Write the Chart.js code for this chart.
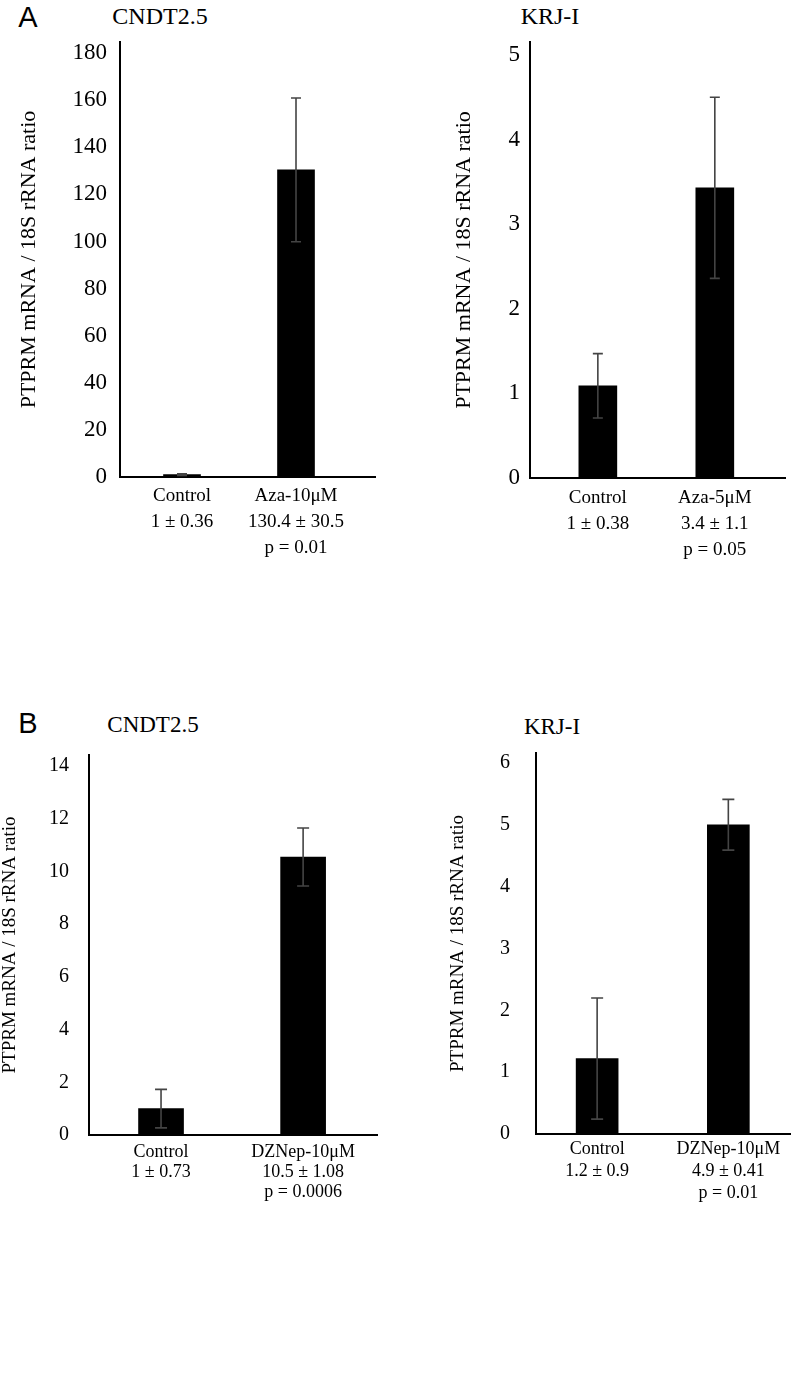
<!doctype html>
<html lang="en">
  <head>
    <meta charset="utf-8">
    <title>PTPRM mRNA / 18S rRNA ratio</title>
    <style>
      * { margin: 0; padding: 0; }
      body { width: 793px; height: 1389px; background: #fff; position: relative; overflow: hidden; }
      .box { position: absolute; }
      .txt { position: absolute; color: #000; white-space: nowrap; transform: translate(-50%, -50%); }
      .serif { font-family: 'Liberation Serif', 'Times New Roman', serif; }
      .letter { font-family: 'Liberation Sans', Arial, sans-serif; font-size: 29px; }
    </style>
  </head>
  <body>
    <div class="txt letter" style="left:28px; top:17px;">A</div>
    <div class="txt serif" style="left:160px; top:16px; font-size:24px;">CNDT2.5</div>
    <div class="txt serif" style="left:550px; top:16px; font-size:24px;">KRJ-I</div>
    <div class="txt letter" style="left:28px; top:723px;">B</div>
    <div class="txt serif" style="left:153px; top:725px; font-size:23px;">CNDT2.5</div>
    <div class="txt serif" style="left:552px; top:727px; font-size:23px;">KRJ-I</div>

    <div class="box" style="left:0px; top:30px; width:385px; height:540px;"><canvas id="aCndt"></canvas></div>
    <div class="box" style="left:400px; top:30px; width:390px; height:540px;"><canvas id="aKrj"></canvas></div>
    <div class="box" style="left:0px; top:740px; width:385px; height:500px;"><canvas id="bCndt"></canvas></div>
    <div class="box" style="left:400px; top:740px; width:393px; height:500px;"><canvas id="bKrj"></canvas></div>

    <script src="https://cdn.jsdelivr.net/npm/chart.js/dist/chart.umd.min.js"></script>
    <script>
    // data
    const yTitle = 'PTPRM mRNA / 18S rRNA ratio';

    const aCndtMeans = [1, 130.4];
    const aCndtErrors = [0.36, 30.5];
    const aCndtLabels = [['Control', '1 ± 0.36'], ['Aza-10μM', '130.4 ± 30.5', 'p = 0.01']];
    const aCndtTicks = [0, 20, 40, 60, 80, 100, 120, 140, 160, 180];

    const aKrjMeans = [1.09, 3.43];
    const aKrjErrors = [0.38, 1.07];
    const aKrjLabels = [['Control', '1 ± 0.38'], ['Aza-5μM', '3.4 ± 1.1', 'p = 0.05']];
    const aKrjTicks = [0, 1, 2, 3, 4, 5];

    const bCndtMeans = [1, 10.55];
    const bCndtErrors = [0.73, 1.1];
    const bCndtLabels = [['Control', '1 ± 0.73'], ['DZNep-10μM', '10.5 ± 1.08', 'p = 0.0006']];
    const bCndtTicks = [0, 2, 4, 6, 8, 10, 12, 14];

    const bKrjMeans = [1.22, 5.0];
    const bKrjErrors = [0.98, 0.41];
    const bKrjLabels = [['Control', '1.2 ± 0.9'], ['DZNep-10μM', '4.9 ± 0.41', 'p = 0.01']];
    const bKrjTicks = [0, 1, 2, 3, 4, 5, 6];

    const serif = "'Liberation Serif', 'Times New Roman', serif";

    // error bars drawn on top of the bars, using the chart's scales
    const errorBars = {
      id: 'errorBars',
      afterDatasetsDraw(chart, args, opts) {
        const {ctx, scales: {x, y}} = chart;
        ctx.save();
        ctx.strokeStyle = '#444';
        ctx.lineWidth = 1.6;
        chart.data.datasets[0].data.forEach((d, i) => {
          const e = opts.errors[i];
          const px = x.getPixelForValue(d.x);
          const top = y.getPixelForValue(d.y + e);
          const bot = y.getPixelForValue(d.y - e);
          ctx.beginPath();
          ctx.moveTo(px, top); ctx.lineTo(px, bot);
          ctx.moveTo(px - opts.cap, top); ctx.lineTo(px + opts.cap, top);
          ctx.moveTo(px - opts.cap, bot); ctx.lineTo(px + opts.cap, bot);
          ctx.stroke();
        });
        ctx.restore();
      }
    };

    function makePanel(id, means, errors, labels, yTicks, s) {
      return new Chart(document.getElementById(id), {
        type: 'bar',
        data: {
          datasets: [{
            data: means.map((v, i) => ({x: i, y: v})),
            backgroundColor: '#000',
            borderWidth: 0,
            barThickness: s.bar
          }]
        },
        plugins: [errorBars],
        options: {
          responsive: true,
          maintainAspectRatio: false,
          animation: false,
          layout: { padding: { top: s.padTop, right: s.padRight, left: 0, bottom: 0 } },
          plugins: {
            legend: { display: false },
            tooltip: { enabled: false },
            errorBars: { errors: errors, cap: s.cap }
          },
          scales: {
            x: {
              type: 'linear',
              offset: false,
              min: s.xMin,
              max: s.xMax,
              afterBuildTicks: sc => { sc.ticks = labels.map((l, i) => ({value: i})); },
              afterFit: sc => { sc.height = s.xHeight; sc.paddingLeft = 0; sc.paddingRight = 0; },
              grid: { display: false, drawTicks: false },
              border: { display: true, color: '#000', width: 2 },
              ticks: {
                autoSkip: false,
                maxRotation: 0,
                padding: s.xPad,
                color: '#000',
                font: { family: serif, size: s.catSize, lineHeight: s.catLine + 'px' },
                callback: (v, i) => labels[i]
              }
            },
            y: {
              min: 0,
              max: s.yMax,
              afterBuildTicks: sc => { sc.ticks = yTicks.map(v => ({value: v})); },
              afterFit: sc => { sc.width = s.yWidth; sc.paddingTop = 0; sc.paddingBottom = 0; },
              grid: { display: false, drawTicks: false },
              border: { display: true, color: '#000', width: 2 },
              ticks: {
                padding: s.yPad,
                color: '#000',
                font: { family: serif, size: s.tickSize }
              },
              title: {
                display: true,
                text: yTitle,
                color: '#000',
                padding: { top: s.titlePad, bottom: 0 },
                font: { family: serif, size: s.titleSize, lineHeight: 1 }
              }
            }
          }
        }
      });
    }

    makePanel('aCndt', aCndtMeans, aCndtErrors, aCndtLabels, aCndtTicks, {
      bar: 37, cap: 5, padTop: 12, padRight: 10, xMin: -0.544, xMax: 1.693,
      xHeight: 93, xPad: 6, catSize: 19, catLine: 26,
      yMax: 184.7, yWidth: 120, yPad: 13, tickSize: 23, titlePad: 18, titleSize: 22
    });
    makePanel('aKrj', aKrjMeans, aKrjErrors, aKrjLabels, aKrjTicks, {
      bar: 38, cap: 5, padTop: 12, padRight: 5, xMin: -0.58, xMax: 1.60,
      xHeight: 92, xPad: 7, catSize: 19, catLine: 26,
      yMax: 5.154, yWidth: 130, yPad: 10, tickSize: 23, titlePad: 53, titleSize: 22
    });
    makePanel('bCndt', bCndtMeans, bCndtErrors, bCndtLabels, bCndtTicks, {
      bar: 45, cap: 6, padTop: 15, padRight: 8, xMin: -0.507, xMax: 1.52,
      xHeight: 105, xPad: 7, catSize: 18, catLine: 20,
      yMax: 14.42, yWidth: 89, yPad: 20, tickSize: 20, titlePad: 1, titleSize: 19
    });
    makePanel('bKrj', bKrjMeans, bKrjErrors, bKrjLabels, bKrjTicks, {
      bar: 42, cap: 6, padTop: 13, padRight: 3, xMin: -0.466, xMax: 1.47,
      xHeight: 106, xPad: 4, catSize: 18, catLine: 22,
      yMax: 6.16, yWidth: 136, yPad: 26, tickSize: 20, titlePad: 49, titleSize: 19
    });
    </script>
  </body>
</html>
